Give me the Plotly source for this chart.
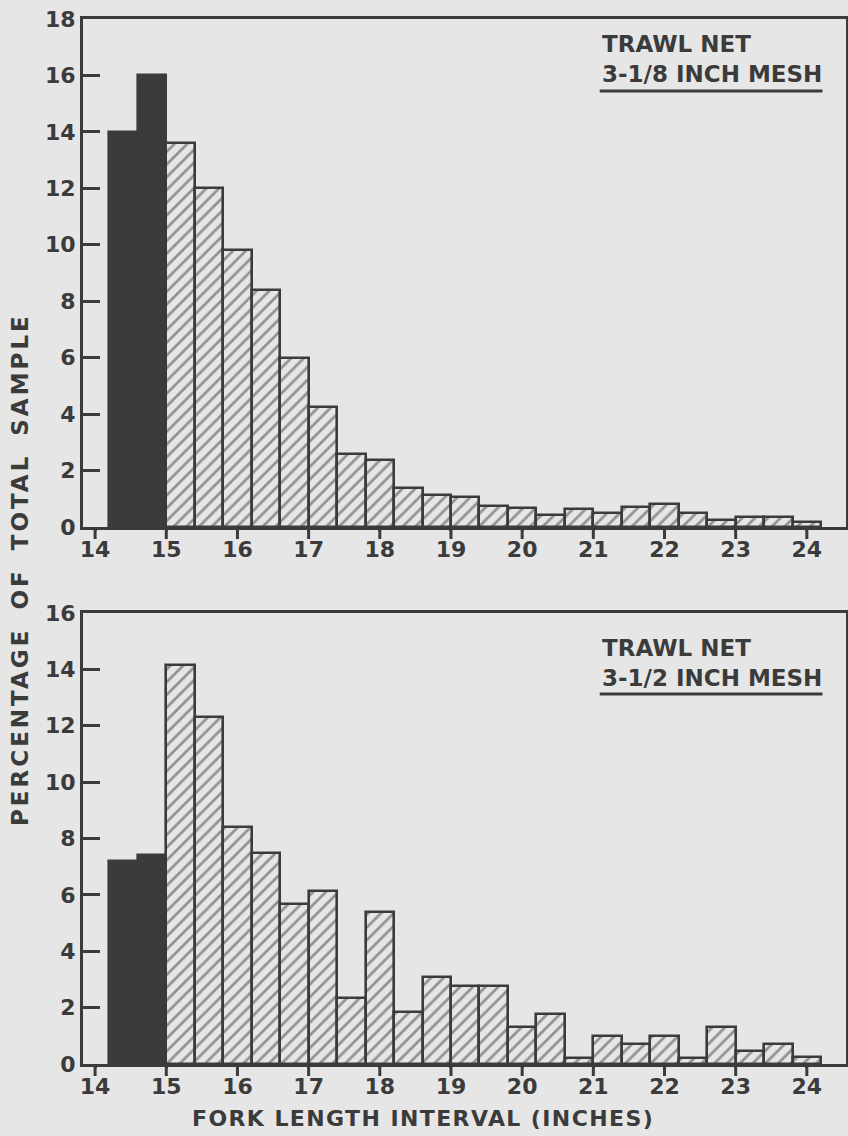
import plotly.graph_objects as go

# Fork length intervals (inches): left edge of each 0.4-inch bin
bin_start = [14.2, 14.6, 15.0, 15.4, 15.8, 16.2, 16.6, 17.0, 17.4, 17.8,
             18.2, 18.6, 19.0, 19.4, 19.8, 20.2, 20.6, 21.0, 21.4, 21.8,
             22.2, 22.6, 23.0, 23.4, 23.8]
bin_width = 0.4

# Percentage of total sample
mesh_3_1_8 = [14.0, 16.0, 13.6, 12.0, 9.8, 8.4, 6.0, 4.25, 2.6, 2.37,
              1.38, 1.15, 1.07, 0.74, 0.67, 0.42, 0.63, 0.5, 0.71, 0.8,
              0.5, 0.25, 0.35, 0.35, 0.18]
mesh_3_1_2 = [7.2, 7.43, 14.16, 12.3, 8.42, 7.5, 5.66, 6.12, 2.34, 5.38,
              1.84, 3.08, 2.77, 2.77, 1.3, 1.77, 0.2, 1.0, 0.7, 1.0,
              0.2, 1.3, 0.47, 0.7, 0.25]

# bins below 15 inches are drawn solid
solid_bins = 2

x_ticks = [14, 15, 16, 17, 18, 19, 20, 21, 22, 23, 24]
y_ticks_top = [0, 2, 4, 6, 8, 10, 12, 14, 16, 18]
y_ticks_bottom = [0, 2, 4, 6, 8, 10, 12, 14, 16]

label_top = ["TRAWL NET", "3-1/8 INCH MESH"]
label_bottom = ["TRAWL NET", "3-1/2 INCH MESH"]

BG = "#e6e6e6"
INK = "#3b3b3b"
FONT = "DejaVu Sans"

centers = [b + bin_width / 2 for b in bin_start]

fig = go.Figure()
for vals, xa, ya in [(mesh_3_1_8, "x", "y"), (mesh_3_1_2, "x2", "y2")]:
    # solid bars
    fig.add_trace(go.Bar(
        x=centers[:solid_bins], y=vals[:solid_bins], width=bin_width,
        xaxis=xa, yaxis=ya,
        marker=dict(color=INK, line=dict(color=INK, width=2.6)),
        showlegend=False, hoverinfo="x+y"))
    # hatched bars
    fig.add_trace(go.Bar(
        x=centers[solid_bins:], y=vals[solid_bins:], width=bin_width,
        xaxis=xa, yaxis=ya,
        marker=dict(color=BG, line=dict(color=INK, width=2.6),
                    pattern=dict(shape="/", fgcolor=INK, bgcolor=BG, size=9,
                                 solidity=0.3)),
        showlegend=False, hoverinfo="x+y"))

xr = [13.83, 24.55]
W, H = 848, 1136
xdom = [83 / W, 846 / W]
top_dom = [1 - 527 / H, 1 - 19 / H]
bot_dom = [1 - 1064 / H, 1 - 613 / H]

tfont = dict(family=FONT, size=22, color=INK, weight="bold")
axis_common = dict(showline=True, linecolor=INK, linewidth=3, mirror=True,
                   showgrid=False, zeroline=False, automargin=False,
                   tickfont=tfont, tickcolor=INK, tickwidth=3)

# x labels sit close to the axis line; the longer outside ticks are added below
xaxis_opts = dict(range=xr, domain=xdom, tickvals=x_ticks, ticks="outside",
                  ticklen=1, **axis_common)
fig.update_layout(
    width=W, height=H, margin=dict(l=0, r=0, t=0, b=0, pad=0),
    paper_bgcolor=BG, plot_bgcolor=BG, bargap=0, barmode="overlay",
    xaxis=dict(anchor="y", **xaxis_opts),
    yaxis=dict(domain=top_dom, range=[0, 18], tickvals=y_ticks_top,
               ticks="inside", ticklen=17, anchor="x", **axis_common),
    xaxis2=dict(anchor="y2", **xaxis_opts),
    yaxis2=dict(domain=bot_dom, range=[0, 16], tickvals=y_ticks_bottom,
                ticks="inside", ticklen=17, anchor="x2", **axis_common),
)

# outside x tick marks (12 px long) at the tick values; y in paper space so
# the marks are not clipped to the plotting area
for xa, dom in [("x", top_dom), ("x2", bot_dom)]:
    for t in x_ticks:
        fig.add_shape(type="line", xref=xa, yref="paper", ysizemode="pixel",
                      yanchor=dom[0], x0=t, x1=t, y0=0, y1=-12,
                      line=dict(color=INK, width=3), layer="above")

ann_font = dict(family=FONT, size=23, color=INK, weight="bold")
anns = []
for (l1, l2), xa, ya, y1, y2 in [(label_top, "x", "y", 17.1, 16.05),
                                 (label_bottom, "x2", "y2", 14.76, 13.7)]:
    anns.append(dict(text=l1, x=21.09, y=y1, xref=xa, yref=ya, xanchor="left",
                     yanchor="middle", showarrow=False, font=ann_font))
    anns.append(dict(text=l2, x=21.09, y=y2, xref=xa, yref=ya, xanchor="left",
                     yanchor="middle", showarrow=False, font=ann_font))
anns.append(dict(text='<span style="letter-spacing:3px;word-spacing:7px">PERCENTAGE OF TOTAL SAMPLE</span>',
                 textangle=-90,
                 x=20 / W, y=1 - 570 / H, xref="paper", yref="paper",
                 xanchor="center", yanchor="middle", showarrow=False,
                 font=dict(family=FONT, size=23, color=INK, weight="bold")))
anns.append(dict(text='<span style="letter-spacing:1.4px">FORK LENGTH INTERVAL (INCHES)</span>',
                 x=423 / W, y=1 - 1118 / H, xref="paper", yref="paper",
                 xanchor="center", yanchor="middle", showarrow=False,
                 font=dict(family=FONT, size=22, color=INK, weight="bold")))
fig.update_layout(annotations=anns)

# underlines beneath the mesh labels
fig.add_shape(type="line", xref="x", yref="y", x0=21.09, x1=24.22, y0=15.45, y1=15.45,
              line=dict(color=INK, width=3))
fig.add_shape(type="line", xref="x2", yref="y2", x0=21.09, x1=24.22, y0=13.13, y1=13.13,
              line=dict(color=INK, width=3))

fig.write_html("out.html", config={"displayModeBar": False},
               post_script="document.body.style.margin='0';document.body.style.overflow='hidden';")
